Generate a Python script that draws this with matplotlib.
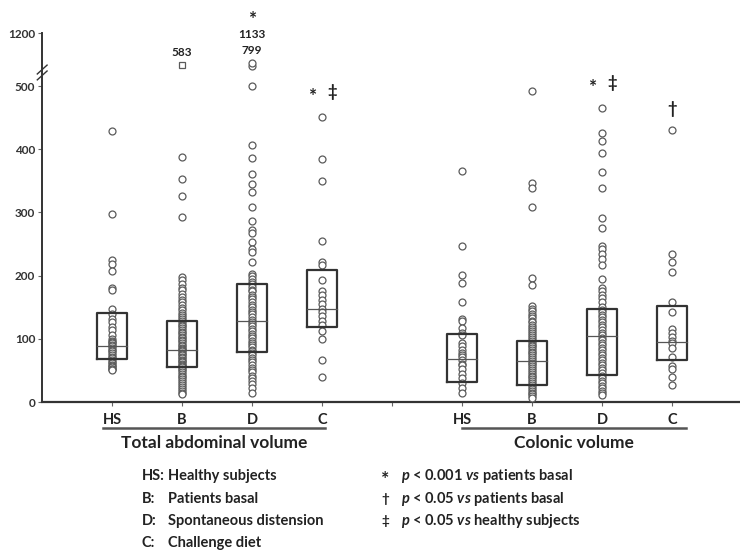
import numpy as np
import matplotlib
matplotlib.use('Agg')
import matplotlib.pyplot as plt
from matplotlib.transforms import blended_transform_factory

plt.rcParams['font.family'] = ['Lato', 'DejaVu Sans']
plt.rcParams['mathtext.fontset'] = 'custom'
plt.rcParams['mathtext.rm'] = 'Lato:bold'
plt.rcParams['mathtext.it'] = 'Lato:bold:italic'
plt.rcParams['mathtext.bf'] = 'Lato:bold'

# volumes (mL) per group, left panel = total abdominal, right panel = colonic
hs_total = [429, 297, 224, 219, 207, 180, 178, 148, 140, 132, 126, 119, 114, 106, 99, 97, 95,
            93, 91, 88, 86, 83, 80, 77, 75, 72, 69, 66, 64, 62, 59, 57, 55, 53, 52, 50]
b_total = [583, 388, 353, 326, 293, 198, 193, 187, 181, 177, 171, 166, 162, 158, 153, 149, 146,
           141, 138, 134, 131, 128, 125, 122, 120, 117, 114, 111, 109, 106, 103, 101, 98, 96, 93,
           91, 89, 86, 84, 82, 80, 78, 76, 74, 71, 69, 67, 65, 63, 61, 59, 57, 55, 53, 50, 48,
           45, 42, 39, 36, 33, 30, 27, 24, 21, 18, 15, 12]
d_total = [1133, 799, 500, 406, 386, 361, 345, 332, 308, 287, 272, 268, 253, 242, 238, 222, 203,
           199, 194, 190, 187, 182, 178, 175, 170, 166, 163, 158, 154, 151, 146, 142, 139, 134,
           130, 127, 124, 120, 116, 113, 108, 104, 101, 97, 94, 90, 87, 83, 80, 77, 74, 70, 66,
           63, 58, 54, 50, 47, 42, 38, 33, 28, 22, 14]
c_total = [451, 384, 350, 255, 221, 217, 193, 175, 169, 162, 155, 148, 143, 136, 129, 122, 112,
           99, 67, 39]
hs_colon = [366, 247, 201, 188, 159, 132, 129, 117, 110, 106, 93, 88, 82, 78, 74, 71, 66, 61,
            58, 53, 45, 38, 30, 22, 15]
b_colon = [493, 346, 338, 308, 197, 185, 152, 148, 144, 140, 136, 133, 129, 126, 122, 119, 116,
           112, 109, 106, 103, 100, 97, 94, 91, 88, 85, 82, 79, 77, 74, 71, 68, 65, 62, 60, 57,
           54, 51, 48, 45, 42, 39, 36, 33, 30, 27, 24, 21, 18, 15, 12, 9, 6]
d_colon = [466, 426, 413, 394, 364, 338, 292, 275, 247, 242, 234, 226, 217, 195, 180, 175, 170,
           165, 158, 150, 146, 142, 138, 134, 130, 126, 122, 118, 114, 110, 106, 102, 98, 94, 90,
           86, 82, 78, 74, 70, 66, 62, 58, 54, 50, 46, 42, 38, 34, 30, 26, 22, 18, 14, 11]
c_colon = [430, 235, 221, 206, 158, 143, 115, 109, 103, 97, 93, 85, 72, 57, 53, 40, 27]

groups = [hs_total, b_total, d_total, c_total, hs_colon, b_colon, d_colon, c_colon]
positions = [1, 2, 3, 4, 6, 7, 8, 9]
q1 = [68, 56, 79, 119, 31, 27, 43, 66]
median = [89, 82, 128, 148, 68, 65, 104, 95]
q3 = [141, 129, 187, 209, 107, 97, 148, 152]

tick_labels = ['HS', 'B', 'D', 'C', '', 'HS', 'B', 'D', 'C']
panel_titles = ['Total abdominal volume', 'Colonic volume']

# significance marks: x position, height on the drawn (broken) axis, symbols
sig_x = [3, 4, 8, 9]
sig_h = [612, 490, 505, 464]
sig_txt = [['*'], ['*', '\u2021'], ['*', '\u2021'], ['\u2020']]

BREAK = 500
TOP = 1200
SQUEEZE = 84 / 700  # compression of the range above the break


def fwd(v):
    v = np.asarray(v, dtype=float)
    return np.where(v <= BREAK, v, BREAK + (v - BREAK) * SQUEEZE)


def inv(v):
    v = np.asarray(v, dtype=float)
    return np.where(v <= BREAK, v, BREAK + (v - BREAK) / SQUEEZE)


def mark(x, y, s, dx=0, fs=12):
    # Lato's asterisk sits high, so pull it down onto the line
    if s == '*':
        ax.annotate('*', (x, y), xytext=(dx, -0.25 * fs), textcoords='offset points',
                    ha='center', va='center', fontsize=fs * 1.15, fontweight='bold',
                    color=ink, annotation_clip=False)
    else:
        ax.annotate(s, (x, y), xytext=(dx, 0), textcoords='offset points',
                    ha='center', va='center', fontsize=fs, fontweight='bold',
                    color=ink, annotation_clip=False)


fig = plt.figure(figsize=(7.4, 5.5), dpi=100)
ax = fig.add_axes([0.057, 0.269, 0.943, 0.671])
ax.set_yscale('function', functions=(fwd, inv))
ax.set_ylim(0, TOP)
ax.set_xlim(0, 9.97)

edge = '#5a5a5a'
ink = '#222222'

for x, vals in zip(positions, groups):
    vals = np.array(vals)
    low = vals[vals <= BREAK]
    high = np.sort(vals[vals > BREAK])
    ax.plot(np.full(len(low), x), low, 'o', ms=5, mfc='white', mec=edge, mew=0.9,
            zorder=3)
    if len(high):
        # off-scale values sit just above the break, labelled with their value
        n = len(high)
        park = inv(534 + 6 * (np.arange(n) - (n - 1) / 2))
        ax.plot(np.full(n, x), park, 's' if n == 1 else 'o', ms=5 if n > 1 else 4.5,
                mfc='white', mec=edge, mew=0.9, zorder=3)
        for i, v in enumerate(high):
            ax.annotate(f'{v}', (x, park.max()), xytext=(0, 9 + 11 * i),
                        textcoords='offset points', ha='center', va='center',
                        fontsize=8.5, fontweight='bold', color=ink)

# boxes (interquartile range with median)
w = 0.43
for x, a, m, b in zip(positions, q1, median, q3):
    ax.plot([x - w / 2, x + w / 2, x + w / 2, x - w / 2, x - w / 2], [a, a, b, b, a],
            color='#333333', lw=1.6, zorder=4)
    ax.plot([x - w / 2, x + w / 2], [m, m], color='#555555', lw=0.9, zorder=4)

for x, h, marks in zip(sig_x, sig_h, sig_txt):
    offs = [0] if len(marks) == 1 else [-7, 7]
    for s, dx in zip(marks, offs):
        mark(x, inv(h), s, dx=dx)

# axes styling
for side in ['top', 'right']:
    ax.spines[side].set_visible(False)
ax.spines['left'].set_linewidth(1.4)
ax.spines['left'].set_color('#333333')
ax.spines['bottom'].set_linewidth(1.6)
ax.spines['bottom'].set_color('#333333')
ax.set_yticks([0, 100, 200, 300, 400, 500, 1200])
ax.set_yticklabels(['0', '100', '200', '300', '400', '500', '1200'],
                   fontsize=8.5, fontweight='bold', color='#333333')
ax.set_xticks(range(1, 10))
ax.set_xticklabels(tick_labels, fontsize=10.5, fontweight='bold', color=ink)
ax.tick_params(axis='both', length=3, width=0.8, color='#666666')
ax.tick_params(axis='x', pad=5)
ax.tick_params(axis='y', pad=2)

# axis break mark
for dy in (-0.008, 0.008):
    ax.plot([-0.007, 0.007], [0.893 + dy - 0.012, 0.893 + dy + 0.012],
            transform=ax.transAxes, color='#333333', lw=1.0, clip_on=False)

# panel underlines and titles
tr = blended_transform_factory(ax.transData, ax.transAxes)
for (x0, x1), title in zip([(0.87, 4.04), (6.0, 9.2)], panel_titles):
    ax.plot([x0, x1], [-0.0705, -0.0705], transform=tr, color='#555555', lw=1.8,
            clip_on=False)
    ax.text((x0 + x1) / 2, -0.111, title, transform=tr, ha='center', va='center',
            fontsize=12.5, fontweight='bold', color=ink)

# legend text
rows = [476, 499, 521, 543]
keys = ['HS:', 'B:', 'D:', 'C:']
names = ['Healthy subjects', 'Patients basal', 'Spontaneous distension', 'Challenge diet']
for y, k, n in zip(rows, keys, names):
    fig.text(142 / 740, 1 - y / 550, k, fontsize=10.5, fontweight='bold', color=ink,
             va='center')
    fig.text(168 / 740, 1 - y / 550, n, fontsize=10.5, fontweight='bold', color=ink,
             va='center')

sym = ['*', '\u2020', '\u2021']
notes = [r'$\mathit{p}$ < 0.001 $\mathit{vs}$ patients basal',
         r'$\mathit{p}$ < 0.05 $\mathit{vs}$ patients basal',
         r'$\mathit{p}$ < 0.05 $\mathit{vs}$ healthy subjects']
for y, s, n in zip(rows, sym, notes):
    dy = 4 if s == '*' else 0
    fig.text(385 / 740, 1 - (y + dy) / 550, s, fontsize=14 if s == '*' else 9.5,
             fontweight='bold', color=ink, va='center', ha='center')
    fig.text(401 / 740, 1 - y / 550, n, fontsize=10.5, fontweight='bold', color=ink,
             va='center')

fig.savefig('out.png', dpi=100)
